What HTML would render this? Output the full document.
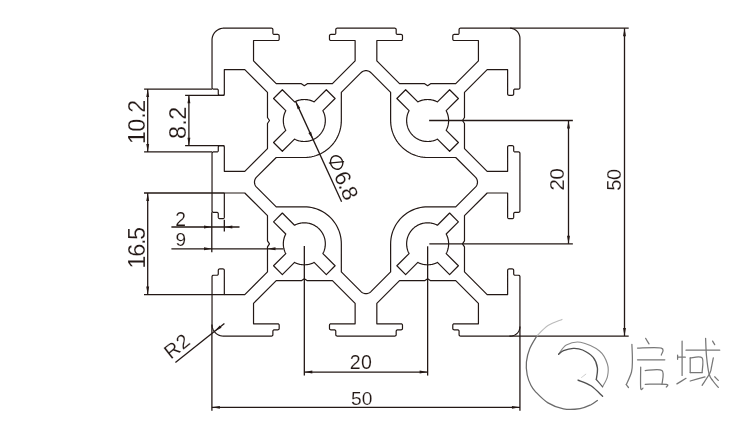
<!DOCTYPE html><html><head><meta charset="utf-8"><style>html,body{margin:0;padding:0;background:#fff;overflow:hidden;width:751px;height:428px}svg{display:block;will-change:transform}text{font-family:"Liberation Sans",sans-serif}</style></head><body><svg width="751" height="428" viewBox="0 0 751 428"><rect width="751" height="428" fill="#fff"/><path d="M365.98 28.20 L337.18 28.20 L336.75 28.27 L336.36 28.47 L336.05 28.78 L335.85 29.17 L335.78 29.60 L335.78 33.05 L335.71 33.48 L335.51 33.87 L335.20 34.18 L334.81 34.38 L334.38 34.45 L330.88 34.45 L330.45 34.52 L330.06 34.72 L329.75 35.03 L329.55 35.42 L329.48 35.85 L329.48 39.10 L329.55 39.53 L329.75 39.92 L330.06 40.23 L330.45 40.43 L330.88 40.50 L355.13 40.50 L355.13 60.95 L332.43 83.65 L307.33 83.65 L304.33 85.65 L301.33 83.65 L276.23 83.65 L253.53 60.95 L253.53 40.50 L277.78 40.50 L278.21 40.43 L278.60 40.23 L278.91 39.92 L279.11 39.53 L279.18 39.10 L279.18 35.85 L279.11 35.42 L278.91 35.03 L278.60 34.72 L278.21 34.52 L277.78 34.45 L274.28 34.45 L273.85 34.38 L273.46 34.18 L273.15 33.87 L272.95 33.48 L272.88 33.05 L272.88 29.60 L272.81 29.17 L272.61 28.78 L272.30 28.47 L271.91 28.27 L271.48 28.20 L223.83 28.20 L223.17 28.22 L222.51 28.27 L221.85 28.37 L221.20 28.50 L220.56 28.66 L219.93 28.86 L219.31 29.10 L218.71 29.37 L218.12 29.67 L217.55 30.01 L217.00 30.38 L216.47 30.77 L215.97 31.20 L215.49 31.66 L215.03 32.14 L214.60 32.64 L214.21 33.17 L213.84 33.72 L213.50 34.29 L213.20 34.88 L212.93 35.48 L212.69 36.10 L212.49 36.73 L212.33 37.37 L212.20 38.02 L212.10 38.68 L212.05 39.34 L212.03 40.00 L212.03 87.65 L212.10 88.08 L212.30 88.47 L212.61 88.78 L213.00 88.98 L213.43 89.05 L216.88 89.05 L217.31 89.12 L217.70 89.32 L218.01 89.63 L218.21 90.02 L218.28 90.45 L218.28 93.95 L218.35 94.38 L218.55 94.77 L218.86 95.08 L219.25 95.28 L219.68 95.35 L222.93 95.35 L223.36 95.28 L223.75 95.08 L224.06 94.77 L224.26 94.38 L224.33 93.95 L224.33 69.70 L244.78 69.70 L267.48 92.40 L267.48 117.50 L269.48 120.50 L267.48 123.50 L267.48 148.60 L244.78 171.30 L224.33 171.30 L224.33 147.05 L224.26 146.62 L224.06 146.23 L223.75 145.92 L223.36 145.72 L222.93 145.65 L219.68 145.65 L219.25 145.72 L218.86 145.92 L218.55 146.23 L218.35 146.62 L218.28 147.05 L218.28 150.55 L218.21 150.98 L218.01 151.37 L217.70 151.68 L217.31 151.88 L216.88 151.95 L213.43 151.95 L213.00 152.02 L212.61 152.22 L212.30 152.53 L212.10 152.92 L212.03 153.35 L212.03 182.15 L212.03 210.95 L212.10 211.38 L212.30 211.77 L212.61 212.08 L213.00 212.28 L213.43 212.35 L216.88 212.35 L217.31 212.42 L217.70 212.62 L218.01 212.93 L218.21 213.32 L218.28 213.75 L218.28 217.25 L218.35 217.68 L218.55 218.07 L218.86 218.38 L219.25 218.58 L219.68 218.65 L222.93 218.65 L223.36 218.58 L223.75 218.38 L224.06 218.07 L224.26 217.68 L224.33 217.25 L224.33 193.00 L244.78 193.00 L267.48 215.70 L267.48 240.80 L269.48 243.80 L267.48 246.80 L267.48 271.90 L244.78 294.60 L224.33 294.60 L224.33 270.35 L224.26 269.92 L224.06 269.53 L223.75 269.22 L223.36 269.02 L222.93 268.95 L219.68 268.95 L219.25 269.02 L218.86 269.22 L218.55 269.53 L218.35 269.92 L218.28 270.35 L218.28 273.85 L218.21 274.28 L218.01 274.67 L217.70 274.98 L217.31 275.18 L216.88 275.25 L213.43 275.25 L213.00 275.32 L212.61 275.52 L212.30 275.83 L212.10 276.22 L212.03 276.65 L212.03 324.60 L212.05 325.27 L212.11 325.94 L212.20 326.60 L212.34 327.25 L212.51 327.90 L212.72 328.53 L212.97 329.15 L213.25 329.76 L213.57 330.35 L213.92 330.92 L214.31 331.47 L214.72 331.99 L215.17 332.49 L215.64 332.96 L216.14 333.41 L216.66 333.82 L217.21 334.21 L217.78 334.56 L218.37 334.88 L218.98 335.16 L219.60 335.41 L220.23 335.62 L220.88 335.79 L221.53 335.93 L222.19 336.02 L222.86 336.08 L223.53 336.10 L271.48 336.10 L271.91 336.03 L272.30 335.83 L272.61 335.52 L272.81 335.13 L272.88 334.70 L272.88 331.25 L272.95 330.82 L273.15 330.43 L273.46 330.12 L273.85 329.92 L274.28 329.85 L277.78 329.85 L278.21 329.78 L278.60 329.58 L278.91 329.27 L279.11 328.88 L279.18 328.45 L279.18 325.20 L279.11 324.77 L278.91 324.38 L278.60 324.07 L278.21 323.87 L277.78 323.80 L253.53 323.80 L253.53 303.35 L276.23 280.65 L301.33 280.65 L304.33 278.65 L307.33 280.65 L332.43 280.65 L355.13 303.35 L355.13 323.80 L330.88 323.80 L330.45 323.87 L330.06 324.07 L329.75 324.38 L329.55 324.77 L329.48 325.20 L329.48 328.45 L329.55 328.88 L329.75 329.27 L330.06 329.58 L330.45 329.78 L330.88 329.85 L334.38 329.85 L334.81 329.92 L335.20 330.12 L335.51 330.43 L335.71 330.82 L335.78 331.25 L335.78 334.70 L335.85 335.13 L336.05 335.52 L336.36 335.83 L336.75 336.03 L337.18 336.10 L365.98 336.10 L394.78 336.10 L395.21 336.03 L395.60 335.83 L395.91 335.52 L396.11 335.13 L396.18 334.70 L396.18 331.25 L396.25 330.82 L396.45 330.43 L396.76 330.12 L397.15 329.92 L397.58 329.85 L401.08 329.85 L401.51 329.78 L401.90 329.58 L402.21 329.27 L402.41 328.88 L402.48 328.45 L402.48 325.20 L402.41 324.77 L402.21 324.38 L401.90 324.07 L401.51 323.87 L401.08 323.80 L376.83 323.80 L376.83 303.35 L399.53 280.65 L424.63 280.65 L427.63 278.65 L430.63 280.65 L455.73 280.65 L478.43 303.35 L478.43 323.80 L454.18 323.80 L453.75 323.87 L453.36 324.07 L453.05 324.38 L452.85 324.77 L452.78 325.20 L452.78 328.45 L452.85 328.88 L453.05 329.27 L453.36 329.58 L453.75 329.78 L454.18 329.85 L457.68 329.85 L458.11 329.92 L458.50 330.12 L458.81 330.43 L459.01 330.82 L459.08 331.25 L459.08 334.70 L459.15 335.13 L459.35 335.52 L459.66 335.83 L460.05 336.03 L460.48 336.10 L510.33 336.10 L510.99 336.08 L511.64 336.01 L512.28 335.90 L512.92 335.74 L513.54 335.55 L514.15 335.31 L514.75 335.02 L515.32 334.70 L515.87 334.34 L516.39 333.95 L516.88 333.52 L517.35 333.05 L517.78 332.56 L518.17 332.04 L518.53 331.49 L518.85 330.92 L519.14 330.32 L519.38 329.71 L519.57 329.09 L519.73 328.45 L519.84 327.81 L519.91 327.16 L519.93 326.50 L519.93 276.65 L519.86 276.22 L519.66 275.83 L519.35 275.52 L518.96 275.32 L518.53 275.25 L515.08 275.25 L514.65 275.18 L514.26 274.98 L513.95 274.67 L513.75 274.28 L513.68 273.85 L513.68 270.35 L513.61 269.92 L513.41 269.53 L513.10 269.22 L512.71 269.02 L512.28 268.95 L509.03 268.95 L508.60 269.02 L508.21 269.22 L507.90 269.53 L507.70 269.92 L507.63 270.35 L507.63 294.60 L487.18 294.60 L464.48 271.90 L464.48 246.80 L462.48 243.80 L464.48 240.80 L464.48 215.70 L487.18 193.00 L507.63 193.00 L507.63 217.25 L507.70 217.68 L507.90 218.07 L508.21 218.38 L508.60 218.58 L509.03 218.65 L512.28 218.65 L512.71 218.58 L513.10 218.38 L513.41 218.07 L513.61 217.68 L513.68 217.25 L513.68 213.75 L513.75 213.32 L513.95 212.93 L514.26 212.62 L514.65 212.42 L515.08 212.35 L518.53 212.35 L518.96 212.28 L519.35 212.08 L519.66 211.77 L519.86 211.38 L519.93 210.95 L519.93 182.15 L519.93 153.35 L519.86 152.92 L519.66 152.53 L519.35 152.22 L518.96 152.02 L518.53 151.95 L515.08 151.95 L514.65 151.88 L514.26 151.68 L513.95 151.37 L513.75 150.98 L513.68 150.55 L513.68 147.05 L513.61 146.62 L513.41 146.23 L513.10 145.92 L512.71 145.72 L512.28 145.65 L509.03 145.65 L508.60 145.72 L508.21 145.92 L507.90 146.23 L507.70 146.62 L507.63 147.05 L507.63 171.30 L487.18 171.30 L464.48 148.60 L464.48 123.50 L462.48 120.50 L464.48 117.50 L464.48 92.40 L487.18 69.70 L507.63 69.70 L507.63 93.95 L507.70 94.38 L507.90 94.77 L508.21 95.08 L508.60 95.28 L509.03 95.35 L512.28 95.35 L512.71 95.28 L513.10 95.08 L513.41 94.77 L513.61 94.38 L513.68 93.95 L513.68 90.45 L513.75 90.02 L513.95 89.63 L514.26 89.32 L514.65 89.12 L515.08 89.05 L518.53 89.05 L518.96 88.98 L519.35 88.78 L519.66 88.47 L519.86 88.08 L519.93 87.65 L519.93 38.40 L519.91 37.73 L519.84 37.07 L519.73 36.41 L519.58 35.76 L519.39 35.12 L519.15 34.50 L518.88 33.89 L518.56 33.30 L518.21 32.73 L517.82 32.19 L517.40 31.67 L516.94 31.19 L516.46 30.73 L515.94 30.31 L515.40 29.92 L514.83 29.57 L514.24 29.25 L513.63 28.98 L513.01 28.74 L512.37 28.55 L511.72 28.40 L511.06 28.29 L510.40 28.22 L509.73 28.20 L460.48 28.20 L460.05 28.27 L459.66 28.47 L459.35 28.78 L459.15 29.17 L459.08 29.60 L459.08 33.05 L459.01 33.48 L458.81 33.87 L458.50 34.18 L458.11 34.38 L457.68 34.45 L454.18 34.45 L453.75 34.52 L453.36 34.72 L453.05 35.03 L452.85 35.42 L452.78 35.85 L452.78 39.10 L452.85 39.53 L453.05 39.92 L453.36 40.23 L453.75 40.43 L454.18 40.50 L478.43 40.50 L478.43 60.95 L455.73 83.65 L430.63 83.65 L427.63 85.65 L424.63 83.65 L399.53 83.65 L376.83 60.95 L376.83 40.50 L401.08 40.50 L401.51 40.43 L401.90 40.23 L402.21 39.92 L402.41 39.53 L402.48 39.10 L402.48 35.85 L402.41 35.42 L402.21 35.03 L401.90 34.72 L401.51 34.52 L401.08 34.45 L397.58 34.45 L397.15 34.38 L396.76 34.18 L396.45 33.87 L396.25 33.48 L396.18 33.05 L396.18 29.60 L396.11 29.17 L395.91 28.78 L395.60 28.47 L395.21 28.27 L394.78 28.20 Z M370.93 72.70 L370.45 72.26 L369.94 71.87 L369.39 71.53 L368.81 71.25 L368.20 71.01 L367.58 70.84 L366.95 70.72 L366.30 70.66 L365.66 70.66 L365.01 70.72 L364.38 70.84 L363.76 71.01 L363.15 71.25 L362.57 71.53 L362.02 71.87 L361.51 72.26 L361.03 72.70 L341.33 92.40 L341.33 120.50 L341.25 122.92 L341.01 125.33 L340.62 127.72 L340.07 130.08 L339.37 132.39 L338.51 134.66 L337.51 136.86 L336.37 139.00 L335.09 141.06 L333.68 143.02 L332.15 144.90 L330.49 146.66 L328.73 148.32 L326.85 149.85 L324.89 151.26 L322.83 152.54 L320.69 153.68 L318.49 154.68 L316.22 155.54 L313.91 156.24 L311.55 156.79 L309.16 157.18 L306.75 157.42 L304.33 157.50 L276.23 157.50 L256.53 177.20 L256.09 177.68 L255.70 178.19 L255.36 178.74 L255.08 179.32 L254.84 179.93 L254.67 180.55 L254.55 181.18 L254.49 181.83 L254.49 182.47 L254.55 183.12 L254.67 183.75 L254.84 184.37 L255.08 184.98 L255.36 185.56 L255.70 186.11 L256.09 186.62 L256.53 187.10 L276.23 206.80 L304.33 206.80 L306.75 206.88 L309.16 207.12 L311.55 207.51 L313.91 208.06 L316.22 208.76 L318.49 209.62 L320.69 210.62 L322.83 211.76 L324.89 213.04 L326.85 214.45 L328.73 215.98 L330.49 217.64 L332.15 219.40 L333.68 221.28 L335.09 223.24 L336.37 225.30 L337.51 227.44 L338.51 229.64 L339.37 231.91 L340.07 234.22 L340.62 236.58 L341.01 238.97 L341.25 241.38 L341.33 243.80 L341.33 271.90 L361.03 291.60 L361.51 292.04 L362.02 292.43 L362.57 292.77 L363.15 293.05 L363.76 293.29 L364.38 293.46 L365.01 293.58 L365.66 293.64 L366.30 293.64 L366.95 293.58 L367.58 293.46 L368.20 293.29 L368.81 293.05 L369.39 292.77 L369.94 292.43 L370.45 292.04 L370.93 291.60 L390.63 271.90 L390.63 243.80 L390.71 241.38 L390.95 238.97 L391.34 236.58 L391.89 234.22 L392.59 231.91 L393.45 229.64 L394.45 227.44 L395.59 225.30 L396.87 223.24 L398.28 221.28 L399.81 219.40 L401.47 217.64 L403.23 215.98 L405.11 214.45 L407.07 213.04 L409.13 211.76 L411.27 210.62 L413.47 209.62 L415.74 208.76 L418.05 208.06 L420.41 207.51 L422.80 207.12 L425.21 206.88 L427.63 206.80 L455.73 206.80 L475.43 187.10 L475.87 186.62 L476.26 186.11 L476.60 185.56 L476.88 184.98 L477.12 184.37 L477.29 183.75 L477.41 183.12 L477.47 182.47 L477.47 181.83 L477.41 181.18 L477.29 180.55 L477.12 179.93 L476.88 179.32 L476.60 178.74 L476.26 178.19 L475.87 177.68 L475.43 177.20 L455.73 157.50 L427.63 157.50 L425.21 157.42 L422.80 157.18 L420.41 156.79 L418.05 156.24 L415.74 155.54 L413.47 154.68 L411.27 153.68 L409.13 152.54 L407.07 151.26 L405.11 149.85 L403.23 148.32 L401.47 146.66 L399.81 144.90 L398.28 143.02 L396.87 141.06 L395.59 139.00 L394.45 136.86 L393.45 134.66 L392.59 132.39 L391.89 130.08 L391.34 127.72 L390.95 125.33 L390.71 122.92 L390.63 120.50 L390.63 92.40 Z M294.53 139.07 L282.34 151.26 L273.57 142.49 L285.76 130.30 L285.39 129.57 L285.05 128.83 L284.74 128.08 L284.46 127.31 L284.22 126.53 L284.00 125.75 L283.81 124.95 L283.65 124.15 L283.52 123.35 L283.43 122.54 L283.37 121.72 L283.33 120.91 L283.33 120.09 L283.37 119.28 L283.43 118.46 L283.52 117.65 L283.65 116.85 L283.81 116.05 L284.00 115.25 L284.22 114.47 L284.46 113.69 L284.74 112.92 L285.05 112.17 L285.39 111.43 L285.76 110.70 L273.57 98.51 L282.34 89.74 L294.53 101.93 L295.26 101.56 L296.00 101.22 L296.75 100.91 L297.52 100.63 L298.30 100.39 L299.08 100.17 L299.88 99.98 L300.68 99.82 L301.48 99.69 L302.29 99.60 L303.11 99.54 L303.92 99.50 L304.74 99.50 L305.55 99.54 L306.37 99.60 L307.18 99.69 L307.98 99.82 L308.78 99.98 L309.58 100.17 L310.36 100.39 L311.14 100.63 L311.91 100.91 L312.66 101.22 L313.40 101.56 L314.13 101.93 L326.32 89.74 L335.09 98.51 L322.90 110.70 L323.27 111.42 L323.60 112.16 L323.91 112.90 L324.19 113.66 L324.43 114.43 L324.65 115.21 L324.84 116.00 L325.00 116.79 L325.13 117.59 L325.22 118.39 L325.29 119.20 L325.32 120.01 L325.33 120.82 L325.30 121.62 L325.24 122.43 L325.15 123.23 L325.03 124.03 L324.88 124.83 L324.70 125.62 L324.48 126.40 L324.24 127.17 L323.97 127.93 L323.67 128.68 L323.34 129.42 L322.98 130.15 L322.60 130.86 L322.19 131.55 L321.75 132.23 L321.28 132.89 L320.79 133.54 L320.28 134.16 L319.74 134.77 L319.18 135.35 L318.60 135.91 L317.99 136.45 L317.37 136.96 L316.72 137.45 L316.06 137.92 L315.38 138.36 L314.69 138.77 L313.98 139.15 L313.25 139.51 L312.51 139.84 L311.76 140.14 L311.00 140.41 L310.23 140.65 L309.45 140.87 L308.66 141.05 L307.86 141.20 L307.06 141.32 L306.26 141.41 L305.45 141.47 L304.65 141.50 L303.84 141.49 L303.03 141.46 L302.22 141.39 L301.42 141.30 L300.62 141.17 L299.83 141.01 L299.04 140.82 L298.26 140.60 L297.49 140.36 L296.73 140.08 L295.99 139.77 L295.25 139.44 Z M446.20 130.30 L458.39 142.49 L449.62 151.26 L437.43 139.07 L436.71 139.44 L435.97 139.77 L435.23 140.08 L434.47 140.36 L433.70 140.60 L432.92 140.82 L432.13 141.01 L431.34 141.17 L430.54 141.30 L429.74 141.39 L428.93 141.46 L428.12 141.49 L427.31 141.50 L426.51 141.47 L425.70 141.41 L424.90 141.32 L424.10 141.20 L423.30 141.05 L422.51 140.87 L421.73 140.65 L420.96 140.41 L420.20 140.14 L419.45 139.84 L418.71 139.51 L417.98 139.15 L417.27 138.77 L416.58 138.36 L415.90 137.92 L415.24 137.45 L414.59 136.96 L413.97 136.45 L413.36 135.91 L412.78 135.35 L412.22 134.77 L411.68 134.16 L411.17 133.54 L410.68 132.89 L410.21 132.23 L409.77 131.55 L409.36 130.86 L408.98 130.15 L408.62 129.42 L408.29 128.68 L407.99 127.93 L407.72 127.17 L407.48 126.40 L407.26 125.62 L407.08 124.83 L406.93 124.03 L406.81 123.23 L406.72 122.43 L406.66 121.62 L406.63 120.82 L406.64 120.01 L406.67 119.20 L406.74 118.39 L406.83 117.59 L406.96 116.79 L407.12 116.00 L407.31 115.21 L407.53 114.43 L407.77 113.66 L408.05 112.90 L408.36 112.16 L408.69 111.42 L409.06 110.70 L396.87 98.51 L405.64 89.74 L417.83 101.93 L418.56 101.56 L419.30 101.22 L420.05 100.91 L420.82 100.63 L421.60 100.39 L422.38 100.17 L423.18 99.98 L423.98 99.82 L424.78 99.69 L425.59 99.60 L426.41 99.54 L427.22 99.50 L428.04 99.50 L428.85 99.54 L429.67 99.60 L430.48 99.69 L431.28 99.82 L432.08 99.98 L432.88 100.17 L433.66 100.39 L434.44 100.63 L435.21 100.91 L435.96 101.22 L436.70 101.56 L437.43 101.93 L449.62 89.74 L458.39 98.51 L446.20 110.70 L446.57 111.43 L446.91 112.17 L447.22 112.92 L447.50 113.69 L447.74 114.47 L447.96 115.25 L448.15 116.05 L448.31 116.85 L448.44 117.65 L448.53 118.46 L448.59 119.28 L448.63 120.09 L448.63 120.91 L448.59 121.72 L448.53 122.54 L448.44 123.35 L448.31 124.15 L448.15 124.95 L447.96 125.75 L447.74 126.53 L447.50 127.31 L447.22 128.08 L446.91 128.83 L446.57 129.57 Z M446.20 253.60 L458.39 265.79 L449.62 274.56 L437.43 262.37 L436.70 262.74 L435.96 263.08 L435.21 263.39 L434.44 263.67 L433.66 263.91 L432.88 264.13 L432.08 264.32 L431.28 264.48 L430.48 264.61 L429.67 264.70 L428.85 264.76 L428.04 264.80 L427.22 264.80 L426.41 264.76 L425.59 264.70 L424.78 264.61 L423.98 264.48 L423.18 264.32 L422.38 264.13 L421.60 263.91 L420.82 263.67 L420.05 263.39 L419.30 263.08 L418.56 262.74 L417.83 262.37 L405.64 274.56 L396.87 265.79 L409.06 253.60 L408.69 252.88 L408.36 252.14 L408.05 251.40 L407.77 250.64 L407.53 249.87 L407.31 249.09 L407.12 248.30 L406.96 247.51 L406.83 246.71 L406.74 245.91 L406.67 245.10 L406.64 244.29 L406.63 243.48 L406.66 242.68 L406.72 241.87 L406.81 241.07 L406.93 240.27 L407.08 239.47 L407.26 238.68 L407.48 237.90 L407.72 237.13 L407.99 236.37 L408.29 235.62 L408.62 234.88 L408.98 234.15 L409.36 233.44 L409.77 232.75 L410.21 232.07 L410.68 231.41 L411.17 230.76 L411.68 230.14 L412.22 229.53 L412.78 228.95 L413.36 228.39 L413.97 227.85 L414.59 227.34 L415.24 226.85 L415.90 226.38 L416.58 225.94 L417.27 225.53 L417.98 225.15 L418.71 224.79 L419.45 224.46 L420.20 224.16 L420.96 223.89 L421.73 223.65 L422.51 223.43 L423.30 223.25 L424.10 223.10 L424.90 222.98 L425.70 222.89 L426.51 222.83 L427.31 222.80 L428.12 222.81 L428.93 222.84 L429.74 222.91 L430.54 223.00 L431.34 223.13 L432.13 223.29 L432.92 223.48 L433.70 223.70 L434.47 223.94 L435.23 224.22 L435.97 224.53 L436.71 224.86 L437.43 225.23 L449.62 213.04 L458.39 221.81 L446.20 234.00 L446.57 234.73 L446.91 235.47 L447.22 236.22 L447.50 236.99 L447.74 237.77 L447.96 238.55 L448.15 239.35 L448.31 240.15 L448.44 240.95 L448.53 241.76 L448.59 242.58 L448.63 243.39 L448.63 244.21 L448.59 245.02 L448.53 245.84 L448.44 246.65 L448.31 247.45 L448.15 248.25 L447.96 249.05 L447.74 249.83 L447.50 250.61 L447.22 251.38 L446.91 252.13 L446.57 252.87 Z M322.90 253.60 L335.09 265.79 L326.32 274.56 L314.13 262.37 L313.40 262.74 L312.66 263.08 L311.91 263.39 L311.14 263.67 L310.36 263.91 L309.58 264.13 L308.78 264.32 L307.98 264.48 L307.18 264.61 L306.37 264.70 L305.55 264.76 L304.74 264.80 L303.92 264.80 L303.11 264.76 L302.29 264.70 L301.48 264.61 L300.68 264.48 L299.88 264.32 L299.08 264.13 L298.30 263.91 L297.52 263.67 L296.75 263.39 L296.00 263.08 L295.26 262.74 L294.53 262.37 L282.34 274.56 L273.57 265.79 L285.76 253.60 L285.39 252.87 L285.05 252.13 L284.74 251.38 L284.46 250.61 L284.22 249.83 L284.00 249.05 L283.81 248.25 L283.65 247.45 L283.52 246.65 L283.43 245.84 L283.37 245.02 L283.33 244.21 L283.33 243.39 L283.37 242.58 L283.43 241.76 L283.52 240.95 L283.65 240.15 L283.81 239.35 L284.00 238.55 L284.22 237.77 L284.46 236.99 L284.74 236.22 L285.05 235.47 L285.39 234.73 L285.76 234.00 L273.57 221.81 L282.34 213.04 L294.53 225.23 L295.25 224.86 L295.99 224.53 L296.73 224.22 L297.49 223.94 L298.26 223.70 L299.04 223.48 L299.83 223.29 L300.62 223.13 L301.42 223.00 L302.22 222.91 L303.03 222.84 L303.84 222.81 L304.65 222.80 L305.45 222.83 L306.26 222.89 L307.06 222.98 L307.86 223.10 L308.66 223.25 L309.45 223.43 L310.23 223.65 L311.00 223.89 L311.76 224.16 L312.51 224.46 L313.25 224.79 L313.98 225.15 L314.69 225.53 L315.38 225.94 L316.06 226.38 L316.72 226.85 L317.37 227.34 L317.99 227.85 L318.60 228.39 L319.18 228.95 L319.74 229.53 L320.28 230.14 L320.79 230.76 L321.28 231.41 L321.75 232.07 L322.19 232.75 L322.60 233.44 L322.98 234.15 L323.34 234.88 L323.67 235.62 L323.97 236.37 L324.24 237.13 L324.48 237.90 L324.70 238.68 L324.88 239.47 L325.03 240.27 L325.15 241.07 L325.24 241.87 L325.30 242.68 L325.33 243.48 L325.32 244.29 L325.29 245.10 L325.22 245.91 L325.13 246.71 L325.00 247.51 L324.84 248.30 L324.65 249.09 L324.43 249.87 L324.19 250.64 L323.91 251.40 L323.60 252.14 L323.27 252.88 Z" fill="none" stroke="#231815" stroke-width="1.20" stroke-linejoin="round"/><line x1="144.10" y1="89.05" x2="212.03" y2="89.05" stroke="#231815" stroke-width="1.30"/><line x1="144.10" y1="151.95" x2="212.03" y2="151.95" stroke="#231815" stroke-width="1.30"/><line x1="147.70" y1="89.05" x2="147.70" y2="151.95" stroke="#231815" stroke-width="1.30"/><path d="M147.70 89.05 L149.15 97.05 L146.25 97.05 Z" fill="#231815"/><path d="M147.70 151.95 L146.25 143.95 L149.15 143.95 Z" fill="#231815"/><line x1="185.10" y1="95.35" x2="224.33" y2="95.35" stroke="#231815" stroke-width="1.30"/><line x1="185.10" y1="145.65" x2="224.33" y2="145.65" stroke="#231815" stroke-width="1.30"/><line x1="188.90" y1="95.35" x2="188.90" y2="145.65" stroke="#231815" stroke-width="1.30"/><path d="M188.90 95.35 L190.35 103.35 L187.45 103.35 Z" fill="#231815"/><path d="M188.90 145.65 L187.45 137.65 L190.35 137.65 Z" fill="#231815"/><line x1="144.00" y1="193.00" x2="224.33" y2="193.00" stroke="#231815" stroke-width="1.30"/><line x1="144.00" y1="294.60" x2="224.33" y2="294.60" stroke="#231815" stroke-width="1.30"/><line x1="147.70" y1="193.00" x2="147.70" y2="294.60" stroke="#231815" stroke-width="1.30"/><path d="M147.70 193.00 L149.15 201.00 L146.25 201.00 Z" fill="#231815"/><path d="M147.70 294.60 L146.25 286.60 L149.15 286.60 Z" fill="#231815"/><line x1="211.80" y1="212.35" x2="211.80" y2="252.30" stroke="#231815" stroke-width="1.30"/><line x1="171.40" y1="227.00" x2="239.50" y2="227.00" stroke="#231815" stroke-width="1.30"/><path d="M212.03 227.00 L204.03 228.45 L204.03 225.55 Z" fill="#231815"/><path d="M224.33 227.00 L232.33 225.55 L232.33 228.45 Z" fill="#231815"/><line x1="224.33" y1="219.80" x2="224.33" y2="231.50" stroke="#231815" stroke-width="1.30"/><line x1="171.40" y1="248.80" x2="283.30" y2="248.80" stroke="#231815" stroke-width="1.30"/><path d="M212.03 248.80 L204.03 250.25 L204.03 247.35 Z" fill="#231815"/><path d="M267.48 248.80 L275.48 247.35 L275.48 250.25 Z" fill="#231815"/><line x1="175.40" y1="362.50" x2="224.40" y2="323.60" stroke="#231815" stroke-width="1.30"/><path d="M214.37 331.56 L219.74 325.45 L221.54 327.72 Z" fill="#231815"/><line x1="295.62" y1="101.39" x2="341.60" y2="201.80" stroke="#231815" stroke-width="1.30"/><path d="M295.62 101.39 L300.26 108.07 L297.62 109.27 Z" fill="#231815"/><path d="M313.04 139.61 L308.40 132.93 L311.04 131.73 Z" fill="#231815"/><line x1="429.13" y1="120.50" x2="572.85" y2="120.50" stroke="#231815" stroke-width="1.30"/><line x1="429.33" y1="243.80" x2="572.85" y2="243.80" stroke="#231815" stroke-width="1.30"/><line x1="568.50" y1="120.50" x2="568.50" y2="243.80" stroke="#231815" stroke-width="1.30"/><path d="M568.50 120.50 L569.95 128.50 L567.05 128.50 Z" fill="#231815"/><path d="M568.50 243.80 L567.05 235.80 L569.95 235.80 Z" fill="#231815"/><line x1="510.20" y1="28.20" x2="628.70" y2="28.20" stroke="#231815" stroke-width="1.30"/><line x1="509.40" y1="336.10" x2="628.70" y2="336.10" stroke="#231815" stroke-width="1.30"/><line x1="624.50" y1="28.20" x2="624.50" y2="336.10" stroke="#231815" stroke-width="1.30"/><path d="M624.50 28.20 L625.95 36.20 L623.05 36.20 Z" fill="#231815"/><path d="M624.50 336.10 L623.05 328.10 L625.95 328.10 Z" fill="#231815"/><line x1="304.33" y1="246.10" x2="304.33" y2="375.55" stroke="#231815" stroke-width="1.30"/><line x1="427.63" y1="246.30" x2="427.63" y2="375.55" stroke="#231815" stroke-width="1.30"/><line x1="304.33" y1="372.05" x2="427.63" y2="372.05" stroke="#231815" stroke-width="1.30"/><path d="M304.33 372.05 L312.33 370.60 L312.33 373.50 Z" fill="#231815"/><path d="M427.63 372.05 L419.63 373.50 L419.63 370.60 Z" fill="#231815"/><line x1="211.90" y1="324.60" x2="211.90" y2="410.70" stroke="#231815" stroke-width="1.30"/><line x1="519.93" y1="326.50" x2="519.93" y2="410.70" stroke="#231815" stroke-width="1.30"/><line x1="211.90" y1="407.35" x2="519.93" y2="407.35" stroke="#231815" stroke-width="1.30"/><path d="M211.90 407.35 L219.90 405.90 L219.90 408.80 Z" fill="#231815"/><path d="M519.93 407.35 L511.93 408.80 L511.93 405.90 Z" fill="#231815"/><path d="M562.00 319.40 C559.67 320.42 552.20 322.73 548.00 325.50 C543.80 328.27 538.67 334.25 536.80 336.00" fill="none" stroke="#bbb" stroke-width="1.10" stroke-linecap="round" opacity="1.00"/><path d="M536.80 336.00 C535.63 338.10 531.53 344.27 529.80 348.60 C528.07 352.93 526.83 357.60 526.40 362.00 C525.97 366.40 526.43 371.08 527.20 375.00 C527.97 378.92 529.63 382.73 531.00 385.50 C532.37 388.27 532.57 388.70 535.40 391.60 C538.23 394.50 543.32 400.02 548.00 402.90 C552.68 405.78 558.17 407.95 563.50 408.90 C568.83 409.85 575.42 409.30 580.00 408.60 C584.58 407.90 588.10 406.05 591.00 404.70 C593.90 403.35 596.33 401.20 597.40 400.50" fill="none" stroke="#6a6a6a" stroke-width="1.25" stroke-linecap="round" opacity="1.00"/><path d="M558.60 354.30 C559.88 352.77 562.65 347.12 566.30 345.10 C569.95 343.08 574.97 341.22 580.50 342.20 C586.03 343.18 595.02 347.37 599.50 351.00 C603.98 354.63 606.07 359.78 607.40 364.00 C608.73 368.22 608.30 372.50 607.50 376.30 C606.70 380.10 603.42 385.05 602.60 386.80" fill="none" stroke="#8a8a8a" stroke-width="1.10" stroke-linecap="round" opacity="1.00"/><path d="M558.60 354.30 C559.42 353.70 561.05 351.68 563.50 350.70 C565.95 349.72 570.12 348.52 573.30 348.40 C576.48 348.28 579.28 348.50 582.60 350.00 C585.92 351.50 590.73 354.42 593.20 357.40 C595.67 360.38 596.88 364.22 597.40 367.90 C597.92 371.58 596.48 377.57 596.30 379.50" fill="none" stroke="#4f4f4f" stroke-width="1.35" stroke-linecap="round" opacity="1.00"/><path d="M596.30 379.50 C597.35 380.72 601.55 385.58 602.60 386.80" fill="none" stroke="#5a5a5a" stroke-width="1.20" stroke-linecap="round" opacity="1.00"/><path d="M578.00 380.10 C580.17 381.05 586.90 383.10 591.00 385.80 C595.10 388.50 600.67 394.55 602.60 396.30" fill="none" stroke="#4f4f4f" stroke-width="1.35" stroke-linecap="round" opacity="1.00"/><path d="M581.60 377.40 C582.30 376.87 585.10 374.73 585.80 374.20" fill="none" stroke="#ccc" stroke-width="1.00" stroke-linecap="round" opacity="1.00"/><path d="M645.60 338.30 C646.17 339.23 648.43 342.97 649.00 343.90" fill="none" stroke="#777" stroke-width="1.25" stroke-linecap="round" opacity="1.00"/><path d="M637.50 348.10 C641.47 348.10 657.33 346.93 661.30 348.10 C665.27 349.27 661.30 353.93 661.30 355.10" fill="none" stroke="#777" stroke-width="1.25" stroke-linecap="round" opacity="1.00"/><path d="M637.50 359.80 C642.05 359.80 660.25 359.80 664.80 359.80" fill="none" stroke="#777" stroke-width="1.25" stroke-linecap="round" opacity="1.00"/><path d="M631.90 344.30 C631.98 346.92 632.47 355.38 632.40 360.00 C632.33 364.62 632.52 367.90 631.50 372.00 C630.48 376.10 627.17 382.50 626.30 384.60" fill="none" stroke="#777" stroke-width="1.25" stroke-linecap="round" opacity="1.00"/><path d="M626.30 384.60 C626.67 385.08 628.13 387.02 628.50 387.50" fill="none" stroke="#777" stroke-width="1.25" stroke-linecap="round" opacity="1.00"/><path d="M640.70 367.00 C640.70 370.50 640.32 384.50 640.70 388.00 C641.08 391.50 642.62 388.00 643.00 388.00" fill="none" stroke="#777" stroke-width="1.25" stroke-linecap="round" opacity="1.00"/><path d="M645.20 370.50 C648.00 370.50 659.20 368.20 662.00 370.50 C664.80 372.80 662.00 382.00 662.00 384.30" fill="none" stroke="#777" stroke-width="1.25" stroke-linecap="round" opacity="1.00"/><path d="M645.20 384.30 C648.72 384.30 662.78 383.85 666.30 384.30 C669.82 384.75 666.30 386.55 666.30 387.00" fill="none" stroke="#777" stroke-width="1.25" stroke-linecap="round" opacity="1.00"/><path d="M682.10 341.10 C682.10 346.82 682.10 369.68 682.10 375.40" fill="none" stroke="#777" stroke-width="1.25" stroke-linecap="round" opacity="1.00"/><path d="M677.60 355.10 C677.60 355.80 677.60 358.60 677.60 359.30" fill="none" stroke="#777" stroke-width="1.25" stroke-linecap="round" opacity="1.00"/><path d="M677.60 357.20 C678.88 357.20 684.02 357.20 685.30 357.20" fill="none" stroke="#777" stroke-width="1.25" stroke-linecap="round" opacity="1.00"/><path d="M676.90 383.90 C678.42 382.97 684.48 379.23 686.00 378.30" fill="none" stroke="#777" stroke-width="1.25" stroke-linecap="round" opacity="1.00"/><path d="M686.00 350.20 C691.62 350.20 714.08 350.20 719.70 350.20" fill="none" stroke="#777" stroke-width="1.25" stroke-linecap="round" opacity="1.00"/><path d="M705.60 338.30 C705.75 341.25 705.92 350.05 706.50 356.00 C707.08 361.95 708.02 369.83 709.10 374.00 C710.18 378.17 711.47 378.77 713.00 381.00 C714.53 383.23 717.42 386.33 718.30 387.40" fill="none" stroke="#777" stroke-width="1.25" stroke-linecap="round" opacity="1.00"/><path d="M712.60 341.10 C712.95 341.68 714.35 344.02 714.70 344.60" fill="none" stroke="#777" stroke-width="1.25" stroke-linecap="round" opacity="1.00"/><path d="M713.30 357.90 C713.00 359.42 712.08 364.43 711.50 367.00 C710.92 369.57 711.37 370.25 709.80 373.30 C708.23 376.35 703.38 383.30 702.10 385.30" fill="none" stroke="#777" stroke-width="1.25" stroke-linecap="round" opacity="1.00"/><path d="M690.20 357.90 C690.20 360.35 690.20 370.15 690.20 372.60" fill="none" stroke="#777" stroke-width="1.25" stroke-linecap="round" opacity="1.00"/><path d="M690.20 357.90 C692.18 357.90 700.12 355.45 702.10 357.90 C704.08 360.35 702.10 370.15 702.10 372.60" fill="none" stroke="#777" stroke-width="1.25" stroke-linecap="round" opacity="1.00"/><path d="M690.20 372.60 C692.18 372.60 700.12 372.60 702.10 372.60" fill="none" stroke="#777" stroke-width="1.25" stroke-linecap="round" opacity="1.00"/><path d="M690.20 381.00 C692.67 380.30 702.53 377.50 705.00 376.80" fill="none" stroke="#777" stroke-width="1.25" stroke-linecap="round" opacity="1.00"/><path d="M714.70 376.80 C715.30 377.40 717.70 379.80 718.30 380.40" fill="none" stroke="#777" stroke-width="1.25" stroke-linecap="round" opacity="1.00"/><ellipse cx="336.6" cy="162.5" rx="6.9" ry="6.0" transform="rotate(65.5 336.6 162.5)" fill="none" stroke="#231815" stroke-width="1.35"/><line x1="328.90" y1="163.20" x2="344.10" y2="161.70" stroke="#231815" stroke-width="1.35"/><g font-family="Liberation Sans" fill="#231815" stroke="#fff" stroke-width="0.15"><text font-size="23.40" transform="translate(145.00 0.00) rotate(-90.00)"><tspan x="-143.88" y="0">1</tspan><tspan x="-131.69" y="0">0</tspan><tspan x="-118.75" y="0">.</tspan><tspan x="-112.76" y="0">2</tspan></text><text font-size="23.60" transform="translate(185.50 0.00) rotate(-90.00)"><tspan x="-139.01" y="0">8</tspan><tspan x="-125.73" y="0">.</tspan><tspan x="-119.86" y="0">2</tspan></text><text font-size="23.40" transform="translate(144.90 0.00) rotate(-90.00)"><tspan x="-268.43" y="0">1</tspan><tspan x="-256.64" y="0">6</tspan><tspan x="-245.10" y="0">.</tspan><tspan x="-239.88" y="0">5</tspan></text><text font-size="19.30" transform="translate(0.00 225.70) rotate(0.00)"><tspan x="175.23" y="0">2</tspan></text><text font-size="19.00" transform="translate(0.00 246.10) rotate(0.00)"><tspan x="175.47" y="0">9</tspan></text><text font-size="20.50" transform="translate(563.60 0.00) rotate(-90.00)"><tspan x="-190.50" y="0">2</tspan><tspan x="-179.55" y="0">0</tspan></text><text font-size="20.00" transform="translate(620.50 0.00) rotate(-90.00)"><tspan x="-190.84" y="0">5</tspan><tspan x="-179.96" y="0">0</tspan></text><text font-size="19.60" transform="translate(0.00 368.60) rotate(0.00)"><tspan x="349.80" y="0">2</tspan><tspan x="361.05" y="0">0</tspan></text><text font-size="19.20" transform="translate(0.00 405.40) rotate(0.00)"><tspan x="350.93" y="0">5</tspan><tspan x="361.71" y="0">0</tspan></text><text font-size="19.80" transform="translate(172.29 358.48) rotate(-38.40)"><tspan x="-2.12" y="0">R</tspan><tspan x="13.28" y="0">2</tspan></text><text font-size="22.00" transform="translate(307.68 118.96) rotate(65.50)"><tspan x="62.21" y="0">6</tspan><tspan x="72.94" y="0">.</tspan><tspan x="78.78" y="0">8</tspan></text></g></svg></body></html>
